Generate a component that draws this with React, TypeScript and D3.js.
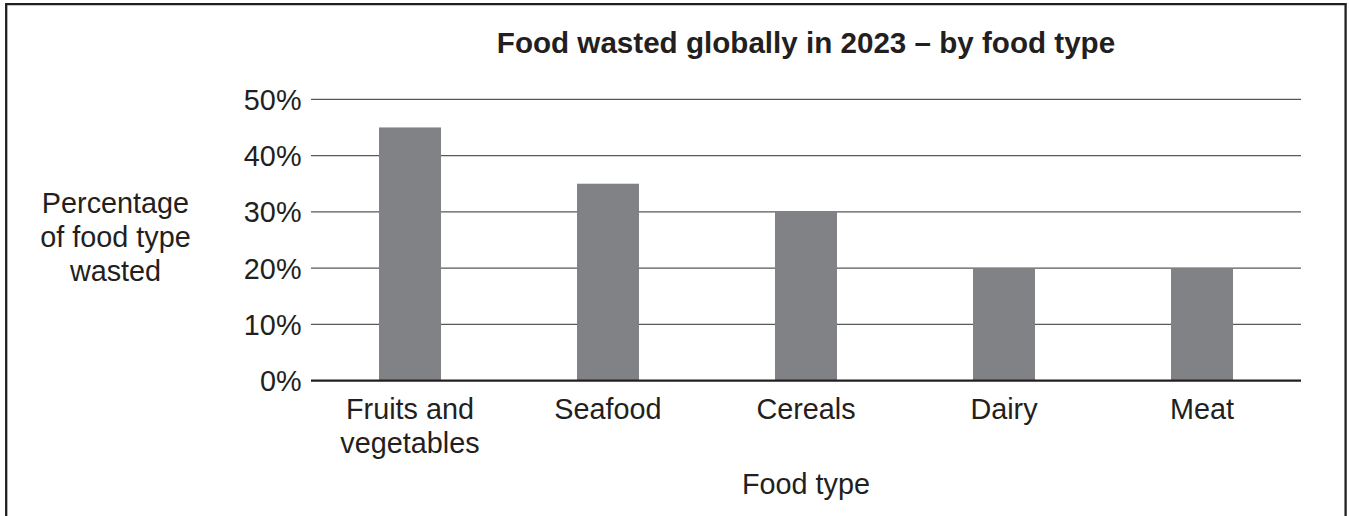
import React from "react";
import * as d3 from "d3";

const categories: string[][] = [
  ["Fruits and", "vegetables"],
  ["Seafood"],
  ["Cereals"],
  ["Dairy"],
  ["Meat"],
];
const values: number[] = [45, 35, 30, 20, 20];
const yTicks: number[] = [0, 10, 20, 30, 40, 50];
const title = "Food wasted globally in 2023 – by food type";
const yTitle: string[] = ["Percentage", "of food type", "wasted"];
const xTitle = "Food type";

const W = 1349;
const H = 516;
const INK = "#231f20";
const BAR = "#808285";
const FONT = "'Liberation Sans', Arial, Helvetica, sans-serif";
const FS = 28.8;
const LH = 33.8;

export default function App() {
  const left = 311;
  const right = 1301;
  const top = 99.3;
  const bottom = 380.7;

  const keys = categories.map((c) => c.join(" "));
  const x = d3
    .scaleBand<string>()
    .domain(keys)
    .range([left, right])
    .paddingInner(0.687)
    .paddingOuter(0.687 / 2);
  const y = d3.scaleLinear().domain([0, 50]).range([bottom, top]);
  const cx = (left + right) / 2;

  return (
    <svg
      width={W}
      height={H}
      style={{ position: "absolute", left: 0, top: 0, background: "#fff" }}
      fontFamily={FONT}
    >
      <rect x={0} y={0} width={W} height={H} fill="#fff" />
      {/* frame */}
      <path
        d={`M6.2,${H + 5} V4.2 H1345.6 V${H + 5}`}
        fill="none"
        stroke={INK}
        strokeWidth={2.3}
      />
      {/* title */}
      <text
        x={cx}
        y={52.5}
        textAnchor="middle"
        fontWeight="bold"
        fontSize={29.6}
        fill={INK}
      >
        {title}
      </text>
      {/* gridlines */}
      {yTicks
        .filter((t) => t > 0)
        .map((t) => (
          <line
            key={t}
            x1={left}
            x2={right}
            y1={y(t)}
            y2={y(t)}
            stroke="#58595b"
            strokeWidth={1.3}
          />
        ))}
      {/* bars */}
      {values.map((v, i) => (
        <rect
          key={keys[i]}
          x={x(keys[i])}
          y={y(v)}
          width={x.bandwidth()}
          height={y(0) - y(v)}
          fill={BAR}
        />
      ))}
      {/* baseline */}
      <line
        x1={left}
        x2={right}
        y1={y(0)}
        y2={y(0)}
        stroke={INK}
        strokeWidth={2.2}
      />
      {/* y tick labels */}
      {yTicks.map((t) => (
        <text
          key={t}
          x={301.5}
          y={y(t) + 10.5}
          textAnchor="end"
          fontSize={FS}
          fill={INK}
        >
          {`${t}%`}
        </text>
      ))}
      {/* x category labels */}
      {categories.map((lines, i) => (
        <text
          key={keys[i]}
          x={(x(keys[i]) as number) + x.bandwidth() / 2}
          y={419}
          textAnchor="middle"
          fontSize={FS}
          fill={INK}
        >
          {lines.map((l, j) => (
            <tspan
              key={j}
              x={(x(keys[i]) as number) + x.bandwidth() / 2}
              dy={j === 0 ? 0 : LH}
            >
              {l}
            </tspan>
          ))}
        </text>
      ))}
      {/* y axis title */}
      <text x={115.5} y={213} textAnchor="middle" fontSize={FS} fill={INK}>
        {yTitle.map((l, j) => (
          <tspan key={j} x={115.5} dy={j === 0 ? 0 : LH}>
            {l}
          </tspan>
        ))}
      </text>
      {/* x axis title */}
      <text x={cx} y={493.5} textAnchor="middle" fontSize={FS} fill={INK}>
        {xTitle}
      </text>
    </svg>
  );
}
